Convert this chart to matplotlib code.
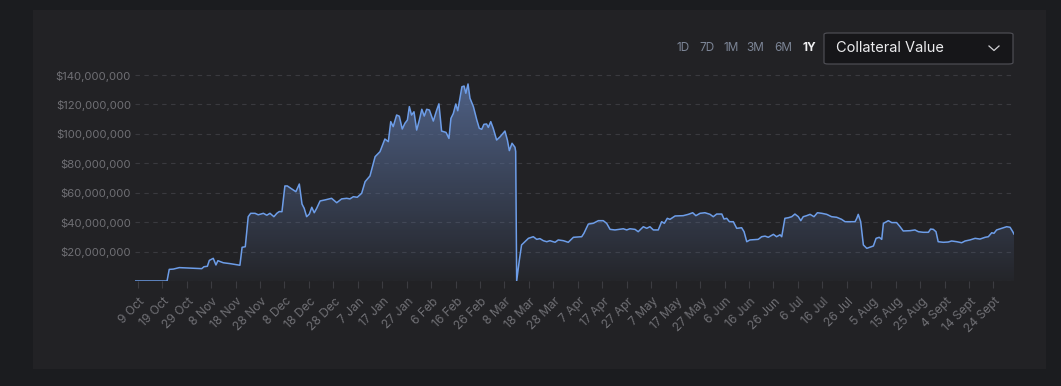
import matplotlib
matplotlib.use("Agg")
import matplotlib.pyplot as plt
import numpy as np
from matplotlib.patches import FancyBboxPatch
from matplotlib.transforms import ScaledTranslation
from matplotlib.lines import Line2D

# ---------------- data ----------------
# day offset from 9 Oct, collateral value in millions USD
days = [-1, 12, 12.9, 14.6, 17, 21.4, 26.2, 27.1, 28.5, 29.3, 30.9, 32, 32.8, 35, 37.8,
        41.8, 42.7, 44, 45.2, 46.2, 48, 49.3, 51.4, 52.8, 54.1, 55.7, 56.9, 57.9, 59,
        60.2, 61.2, 62.6, 64.7, 66.1, 67.2, 68.1, 69.1, 70.2, 71.2, 72.2, 73.2, 74.6,
        76.6, 79.3, 81.4, 83.4, 85.5, 86.8, 88.2, 89.8, 91.6, 93, 95, 97.1, 99.1, 101.1,
        102.5, 103.5, 104.5, 105.9, 107, 108.2, 109.3, 110.3, 111.1, 112, 113, 114.1,
        115.2, 116.2, 117.2, 118.2, 119.3, 120.9, 122.3, 123.2, 124.3, 126.1, 127.3,
        128.1, 129.1, 130.1, 130.9, 131.8, 132.6, 133.5, 134.2, 135.1, 135.9, 137.3,
        138.7, 139.7, 140.7, 141.6, 142.7, 143.4, 144.4, 145.4, 146.8, 148.2, 150.2,
        151.2, 152, 153.1, 154.3, 154.6, 155.0, 156.1, 157, 158.4, 159.8, 161.8, 163.2,
        164.5, 165.9, 167.3, 168.6, 170.7, 172, 174.1, 176.1, 178.2, 181.6, 182.5, 184.3,
        186.3, 188.4, 190.4, 191.8, 193.2, 195.2, 198.6, 200, 201.3, 203.4, 204.7, 206.8,
        208.2, 209.5, 210.9, 212.9, 214.3, 215.4, 216.6, 217.7, 219.8, 223.1, 225.2, 227,
        228.3, 230, 232, 234.1, 235.4, 236.8, 238.9, 239.8, 240.9, 242, 243.6, 245, 247,
        248, 249.1, 250.4, 253.8, 255.2, 256.6, 257.9, 260, 261.3, 262.7, 263.4, 264.7,
        266.1, 267.5, 268.8, 270.2, 271.2, 272.2, 273.6, 275, 276.6, 278, 279.8, 281.8,
        283.8, 285.9, 287.9, 289.3, 291.3, 293.4, 294.1, 294.7, 295.7, 296.8, 298.2, 299.5,
        300.9, 302, 303.3, 304.3, 305, 305.6, 307, 308.4, 310.4, 311.8, 313.1, 315.9,
        317.9, 319.3, 321.3, 323.4, 324.3, 325.4, 326.5, 327.4, 329.5, 331.5, 332.9, 335,
        337, 338.4, 340.4, 342.5, 344.5, 346.6, 347.9, 349.3, 350.2, 351.3, 353.4, 355.4,
        356.8, 357.9, 358.4]
values = [0, 0, 7.9, 8.1, 9.1, 8.8, 8.4, 9.7, 10.0, 14.0, 15.4, 10.9, 13.8, 12.4, 11.8,
          10.7, 22.9, 23.3, 43.7, 46.0, 46.0, 45.0, 46.0, 44.7, 46.0, 43.7, 46.0, 47.2, 47.1,
          64.6, 64.6, 63.0, 60.7, 65.9, 52.3, 49.4, 43.7, 45.5, 50.1, 46.4, 49.4, 54.4,
          55.1, 56.2, 53.2, 55.8, 56.2, 55.8, 57.3, 56.9, 59.6, 67.5, 71.4, 84.5, 87.9, 96.5,
          94.7, 108.3, 104.9, 112.8, 112.0, 103.3, 107.2, 109.4, 118.5, 112.8, 115.0, 102.6,
          109.4, 116.7, 112.1, 116.7, 116.2, 108.7, 116.2, 120.4, 101.9, 101.0, 96.9,
          110.5, 113.9, 120.3, 115.7, 124.2, 132.0, 132.5, 127.6, 133.9, 124.2, 118.5,
          109.4, 103.8, 103.1, 106.5, 106.7, 104.4, 108.3, 103.8, 95.8, 98.0, 101.9,
          95.8, 88.6, 93.6, 90.9, 88.0, 0.0, 14.3, 24.5, 26.7, 29.0, 30.1, 28.3,
          28.8, 27.4, 26.7, 27.4, 26.3, 27.9, 27.4, 26.3, 29.7, 30.1, 32.4, 38.7,
          39.2, 41.0, 41.0, 39.2, 35.1, 34.7, 35.5, 34.7, 35.5, 35.1, 33.5, 36.9,
          35.8, 36.9, 34.7, 34.7, 40.3, 39.2, 42.6, 41.9, 44.2, 44.4, 45.3, 46.4,
          44.4, 46.0, 46.4, 45.3, 43.7, 45.5, 45.5, 42.1, 42.6, 40.3, 40.3, 35.8, 36.2,
          33.5, 26.7, 27.9, 28.3, 30.1, 30.5, 29.7, 31.7, 30.1, 31.4, 30.1, 42.6,
          43.0, 43.7, 45.5, 43.7, 41.0, 43.7, 44.4, 45.3, 43.7, 46.4, 46.0, 45.3,
          43.7, 43.3, 41.9, 40.3, 40.3, 40.3, 42.6, 45.3, 40.3, 24.5, 22.2, 23.0,
          23.8, 29.0, 29.7, 28.3, 39.2, 39.7, 41.0, 39.7, 39.7, 36.9, 34.0, 34.2,
          34.7, 33.5, 33.1, 33.1, 35.3, 35.1, 33.5, 26.7, 26.3, 26.5, 27.2, 26.7,
          26.0, 27.2, 27.9, 29.0, 28.5, 29.7, 30.1, 32.8, 32.4, 34.7, 35.8, 36.9,
          36.5, 33.5, 31.9]

x_tick_days = list(range(0, 360, 10))
x_tick_labels = ["9 Oct", "19 Oct", "29 Oct", "8 Nov", "18 Nov", "28 Nov", "8 Dec",
                 "18 Dec", "28 Dec", "7 Jan", "17 Jan", "27 Jan", "6 Feb", "16 Feb",
                 "26 Feb", "8 Mar", "18 Mar", "28 Mar", "7 Apr", "17 Apr", "27 Apr",
                 "7 May", "17 May", "27 May", "6 Jun", "16 Jun", "26 Jun", "6 Jul",
                 "16 Jul", "26 Jul", "5 Aug", "15 Aug", "25 Aug", "4 Sept", "14 Sept",
                 "24 Sept"]
y_tick_values = [0, 20, 40, 60, 80, 100, 120, 140]
y_tick_labels = ["", "$20,000,000", "$40,000,000", "$60,000,000", "$80,000,000",
                 "$100,000,000", "$120,000,000", "$140,000,000"]
range_buttons = ["1D", "7D", "1M", "3M", "6M", "1Y"]
dropdown_label = "Collateral Value"

# ---------------- style ----------------
W, H = 1061, 386
plt.rcParams['font.family'] = ['Inter', 'DejaVu Sans']
OUTER = '#1b1c1f'
PANEL = '#222225'
GRID = '#3a3a3f'
LABEL = '#6f6f74'
LINE = '#6d9de8'

fig = plt.figure(figsize=(W / 100, H / 100), dpi=100, facecolor=OUTER)

def fx(px):
    return px / W

def fy(py):
    return 1 - py / H

# panel
fig.patches.append(FancyBboxPatch((fx(33), fy(369)), fx(1046) - fx(33), fy(10) - fy(369),
                                  boxstyle="square,pad=0", transform=fig.transFigure,
                                  facecolor=PANEL, edgecolor='none', zorder=-5))

# axes geometry
x0, x1 = -1, 358.4
ymax = 145
px_left = 137.7 + x0 * 2.445
px_right = 137.7 + x1 * 2.445
px_bottom = 281
px_top = 281 - ymax * (206 / 140)
ax = fig.add_axes([fx(px_left), fy(px_bottom), fx(px_right) - fx(px_left),
                   fy(px_top) - fy(px_bottom)])
ax.set_zorder(1)
ax.set_facecolor('none')
ax.set_xlim(x0, x1)
ax.set_ylim(0, ymax)

# gradient fill clipped to area
poly = ax.fill_between(days, values, 0, facecolor='none', edgecolor='none')
n = 256
alpha = np.clip(np.linspace(0.04, 0.78 * ymax / 135, n), 0, 0.85)
grad = np.zeros((n, 1, 4))
grad[:, 0, 0] = 0.36
grad[:, 0, 1] = 0.45
grad[:, 0, 2] = 0.63
grad[:, 0, 3] = alpha
im = ax.imshow(grad, extent=[x0, x1, 0, ymax], origin='lower', aspect='auto',
               interpolation='bilinear', zorder=1)
im.set_clip_path(poly.get_paths()[0], transform=ax.transData)
ax.set_xlim(x0, x1)
ax.set_ylim(0, ymax)

ax.plot(days, values, color=LINE, lw=1.1, zorder=3, solid_joinstyle='round')

# grid
for v in y_tick_values:
    ax.axhline(v, color=GRID, lw=0.8, dashes=(4, 4), zorder=0.5)

for s in ax.spines.values():
    s.set_visible(False)

ax.set_yticks(y_tick_values)
ax.set_yticklabels(y_tick_labels)
ax.tick_params(axis='y', length=0, pad=3, labelsize=8.2, labelcolor=LABEL)

ax.set_xticks(x_tick_days)
ax.set_xticklabels(x_tick_labels, rotation=45, ha='right', va='center',
                   rotation_mode='anchor')
ax.tick_params(axis='x', length=5, width=0.8, color='#3c3c41', pad=8.5,
               labelsize=8.7, labelcolor=LABEL)
off = ScaledTranslation(5 / 100, 0, fig.dpi_scale_trans)
for lab in ax.get_xticklabels():
    lab.set_transform(lab.get_transform() + off)

# range buttons
btn_x = [683, 706.5, 731, 755.5, 783.5, 809]
for lbl, bx in zip(range_buttons, btn_x):
    if lbl == "1Y":
        fig.text(fx(bx), fy(48), lbl, ha='center', va='center', fontsize=8.5,
                 color='#f0f0f2', fontweight='bold')
    else:
        fig.text(fx(bx), fy(48), lbl, ha='center', va='center', fontsize=8.5,
                 color='#7c8596')

# dropdown
fig.patches.append(FancyBboxPatch((fx(824), fy(64)), fx(1013) - fx(824), fy(33) - fy(64),
                                  boxstyle="round,pad=0,rounding_size=0.004",
                                  transform=fig.transFigure, facecolor='#161619',
                                  edgecolor='#4c4c52', lw=0.9, zorder=2))
fig.text(fx(836), fy(48.5), dropdown_label, ha='left', va='center', fontsize=10.5,
         color='#ececee', zorder=3)
fig.add_artist(Line2D([fx(989), fx(994), fx(999)], [fy(46), fy(50.5), fy(46)],
                      transform=fig.transFigure, color='#d0d0d4', lw=0.9, zorder=3))

fig.savefig("out.png", dpi=100, facecolor=OUTER)
